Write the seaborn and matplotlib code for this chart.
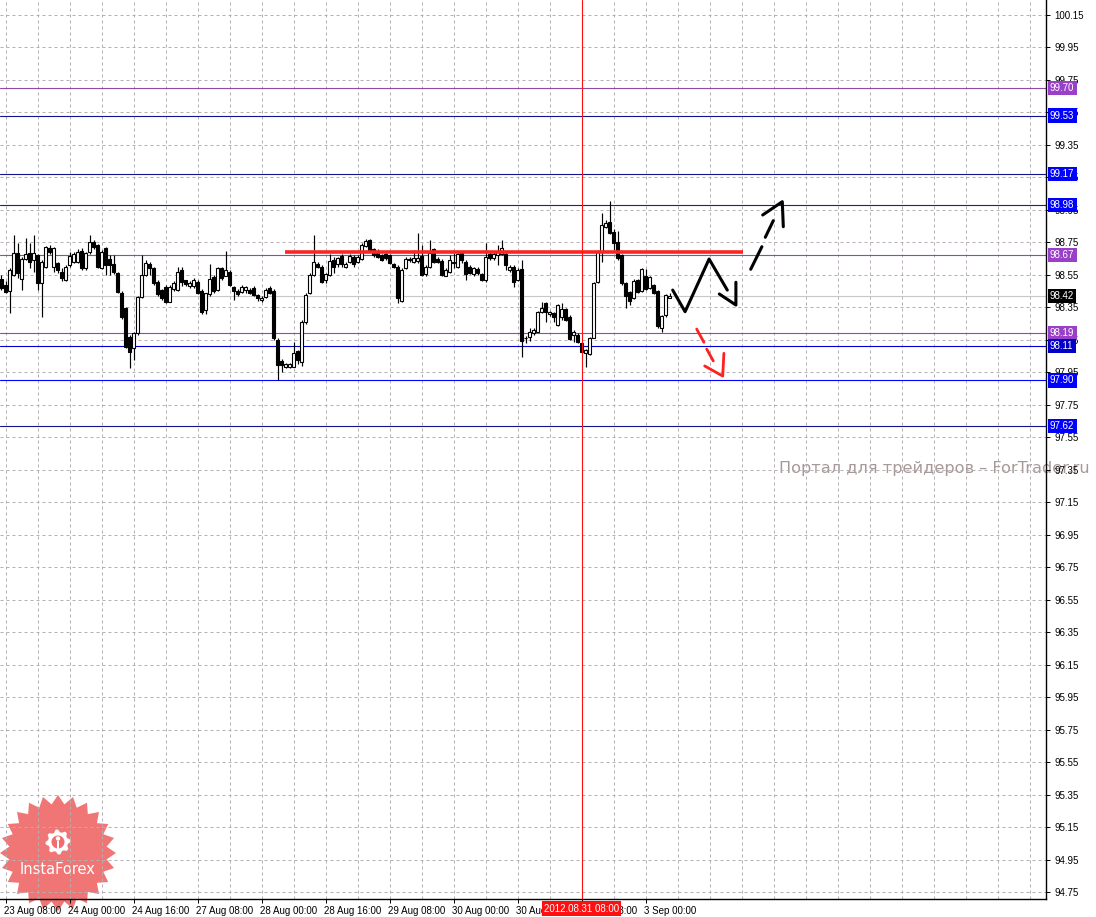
import numpy as np
import pandas as pd
import matplotlib
matplotlib.use("Agg")
import matplotlib.pyplot as plt
import matplotlib.transforms as mtransforms
from matplotlib.patches import Polygon, Circle, Rectangle
import seaborn as sns

# ---------------- data (H1 bars) ----------------
opens = [98.524, 98.487, 98.452, 98.549, 98.682, 98.522, 98.645, 98.682, 98.641, 98.672,
         98.502, 98.600, 98.713, 98.600, 98.621, 98.565, 98.518, 98.610, 98.631, 98.627,
         98.698, 98.590, 98.692, 98.749, 98.733, 98.590, 98.713, 98.645, 98.616, 98.559,
         98.440, 98.344, 98.169, 98.098, 98.190, 98.415, 98.549, 98.616, 98.590, 98.508,
         98.456, 98.477, 98.385, 98.460, 98.457, 98.580, 98.518, 98.481, 98.481, 98.508,
         98.451, 98.334, 98.431, 98.535, 98.457, 98.594, 98.545, 98.570, 98.475, 98.451,
         98.446, 98.455, 98.457, 98.471, 98.426, 98.393, 98.416, 98.467, 98.451, 98.149,
         98.020, 97.985, 97.985, 97.985, 98.081, 98.016, 98.262, 98.436, 98.549, 98.615,
         98.600, 98.518, 98.549, 98.640, 98.615, 98.666, 98.600, 98.627, 98.662, 98.627,
         98.645, 98.727, 98.764, 98.707, 98.682, 98.672, 98.676, 98.672, 98.617, 98.600,
         98.390, 98.594, 98.647, 98.631, 98.635, 98.666, 98.553, 98.600, 98.709, 98.647,
         98.635, 98.545, 98.570, 98.625, 98.600, 98.682, 98.631, 98.600, 98.553, 98.586,
         98.553, 98.518, 98.676, 98.652, 98.672, 98.676, 98.676, 98.580, 98.600, 98.518,
         98.586, 98.163, 98.170, 98.190, 98.200, 98.323, 98.375, 98.307, 98.313, 98.241,
         98.293, 98.340, 98.293, 98.180, 98.180, 98.128, 98.067, 98.061, 98.163, 98.504,
         98.692, 98.846, 98.877, 98.815, 98.754, 98.672, 98.498, 98.442, 98.405, 98.518,
         98.450, 98.541, 98.470, 98.487, 98.450, 98.225, 98.303, 98.410]
highs = [98.550, 98.510, 98.590, 98.795, 98.744, 98.660, 98.774, 98.744, 98.795, 98.680,
         98.640, 98.730, 98.734, 98.723, 98.630, 98.590, 98.610, 98.690, 98.690, 98.707,
         98.713, 98.690, 98.795, 98.764, 98.740, 98.700, 98.720, 98.672, 98.672, 98.565,
         98.450, 98.350, 98.180, 98.200, 98.420, 98.672, 98.640, 98.630, 98.600, 98.520,
         98.460, 98.490, 98.490, 98.510, 98.600, 98.600, 98.520, 98.510, 98.530, 98.520,
         98.460, 98.440, 98.615, 98.550, 98.600, 98.600, 98.697, 98.580, 98.480, 98.460,
         98.490, 98.480, 98.470, 98.480, 98.430, 98.420, 98.470, 98.480, 98.460, 98.160,
         98.030, 98.010, 98.010, 98.135, 98.090, 98.270, 98.440, 98.560, 98.795, 98.630,
         98.610, 98.560, 98.680, 98.660, 98.660, 98.680, 98.630, 98.680, 98.670, 98.670,
         98.745, 98.770, 98.770, 98.715, 98.710, 98.680, 98.690, 98.680, 98.625, 98.610,
         98.590, 98.660, 98.660, 98.700, 98.805, 98.733, 98.610, 98.764, 98.715, 98.660,
         98.645, 98.590, 98.670, 98.682, 98.690, 98.690, 98.640, 98.610, 98.600, 98.600,
         98.560, 98.745, 98.690, 98.690, 98.733, 98.764, 98.690, 98.610, 98.610, 98.590,
         98.641, 98.175, 98.220, 98.220, 98.330, 98.385, 98.385, 98.330, 98.320, 98.370,
         98.375, 98.345, 98.300, 98.210, 98.190, 98.135, 98.095, 98.170, 98.505, 98.700,
         98.928, 98.887, 99.004, 98.830, 98.820, 98.680, 98.505, 98.450, 98.525, 98.525,
         98.590, 98.586, 98.545, 98.495, 98.455, 98.305, 98.430, 98.440]
lows = [98.457, 98.436, 98.317, 98.540, 98.530, 98.456, 98.640, 98.590, 98.569, 98.456,
        98.288, 98.590, 98.680, 98.569, 98.560, 98.510, 98.510, 98.600, 98.620, 98.620,
        98.580, 98.580, 98.680, 98.710, 98.590, 98.585, 98.549, 98.549, 98.555, 98.440,
        98.280, 98.100, 97.979, 98.026, 98.180, 98.410, 98.540, 98.549, 98.490, 98.420,
        98.395, 98.375, 98.380, 98.450, 98.450, 98.480, 98.480, 98.470, 98.470, 98.430,
        98.310, 98.307, 98.420, 98.440, 98.450, 98.520, 98.540, 98.480, 98.395, 98.420,
        98.440, 98.440, 98.430, 98.420, 98.390, 98.385, 98.410, 98.430, 98.150, 97.903,
        97.950, 97.975, 97.975, 97.980, 98.000, 97.990, 98.250, 98.430, 98.540, 98.590,
        98.500, 98.500, 98.540, 98.560, 98.600, 98.600, 98.590, 98.620, 98.600, 98.620,
        98.640, 98.720, 98.690, 98.660, 98.655, 98.635, 98.640, 98.615, 98.590, 98.375,
        98.380, 98.585, 98.630, 98.620, 98.625, 98.540, 98.545, 98.590, 98.625, 98.620,
        98.540, 98.540, 98.560, 98.590, 98.590, 98.620, 98.518, 98.555, 98.545, 98.550,
        98.510, 98.505, 98.640, 98.640, 98.610, 98.670, 98.580, 98.570, 98.477, 98.510,
        98.046, 98.128, 98.140, 98.180, 98.195, 98.315, 98.262, 98.295, 98.262, 98.235,
        98.270, 98.265, 98.150, 98.139, 98.130, 98.070, 97.985, 98.055, 98.160, 98.500,
        98.630, 98.840, 98.800, 98.700, 98.640, 98.490, 98.344, 98.364, 98.400, 98.440,
        98.445, 98.455, 98.465, 98.430, 98.225, 98.200, 98.290, 98.405]
closes = [98.470, 98.446, 98.580, 98.682, 98.559, 98.645, 98.676, 98.631, 98.682, 98.498,
          98.631, 98.723, 98.692, 98.713, 98.580, 98.528, 98.600, 98.666, 98.676, 98.692,
          98.590, 98.682, 98.754, 98.723, 98.600, 98.690, 98.610, 98.610, 98.565, 98.446,
          98.292, 98.108, 98.077, 98.190, 98.415, 98.549, 98.625, 98.590, 98.498, 98.432,
          98.405, 98.385, 98.477, 98.500, 98.570, 98.508, 98.492, 98.498, 98.518, 98.436,
          98.323, 98.436, 98.524, 98.451, 98.590, 98.528, 98.580, 98.487, 98.453, 98.430,
          98.475, 98.475, 98.440, 98.426, 98.405, 98.410, 98.457, 98.436, 98.159, 97.995,
          97.995, 97.999, 97.999, 98.067, 98.026, 98.258, 98.426, 98.549, 98.631, 98.600,
          98.508, 98.553, 98.635, 98.600, 98.652, 98.615, 98.615, 98.666, 98.615, 98.662,
          98.734, 98.758, 98.697, 98.672, 98.662, 98.641, 98.651, 98.625, 98.600, 98.405,
          98.580, 98.647, 98.641, 98.651, 98.652, 98.549, 98.600, 98.682, 98.631, 98.627,
          98.549, 98.580, 98.640, 98.631, 98.676, 98.641, 98.553, 98.559, 98.590, 98.559,
          98.518, 98.660, 98.652, 98.680, 98.692, 98.717, 98.611, 98.600, 98.504, 98.580,
          98.142, 98.159, 98.200, 98.210, 98.323, 98.344, 98.319, 98.323, 98.293, 98.364,
          98.340, 98.272, 98.155, 98.200, 98.139, 98.077, 98.087, 98.163, 98.498, 98.692,
          98.856, 98.866, 98.805, 98.744, 98.651, 98.498, 98.422, 98.389, 98.512, 98.446,
          98.586, 98.463, 98.539, 98.436, 98.237, 98.299, 98.426, 98.420]

x_tick_bars = [1, 17, 33, 49, 65, 81, 97, 113, 129, 145, 161]
x_tick_labels = ["23 Aug 08:00", "24 Aug 00:00", "24 Aug 16:00", "27 Aug 08:00",
                 "28 Aug 00:00", "28 Aug 16:00", "29 Aug 08:00", "30 Aug 00:00",
                 "30 Aug 16:00", "31 Aug 08:00", "3 Sep 00:00"]
cursor_bar = 145
cursor_label = "2012.08.31 08:00"

level_prices = [99.70, 99.53, 99.17, 98.98, 98.67, 98.42, 98.19, 98.11, 97.90, 97.62]
level_line_colors = ["#8e4aa8", "#14148c", "#14148c", "#1a1ab0", "#9a3fc8",
                     "#c8c8c8", "#9a3fc8", "#0000d0", "#0000ff", "#14148c"]
level_label_colors = ["#9a3fc8", "#0000ff", "#0000ff", "#0000ff", "#9a3fc8",
                      "#000000", "#9a3fc8", "#0000c8", "#0000ff", "#0000ff"]

resistance_price = 98.688
resistance_bars = [70.9, 185.4]

# hand-drawn forecast arrows (bar index, price)
zigzag_bars = [167.8, 170.9, 176.9, 181.45]
zigzag_prices = [98.456, 98.323, 98.647, 98.456]
zigzag_head_bars = [179.45, 183.6, 183.6]
zigzag_head_prices = [98.432, 98.364, 98.504]
bull_segments = [([187.3, 190.1], [98.584, 98.723]),
                 ([190.95, 192.95], [98.781, 98.883]),
                 ([190.3, 195.2, 195.45], [98.918, 99.000, 98.846])]
bear_segments = [([173.8, 175.6], [98.216, 98.135]),
                 ([176.3, 177.95], [98.093, 98.020]),
                 ([175.8, 180.3, 180.6], [97.989, 97.927, 98.067])]

# ---------------- figure ----------------
sns.set_theme(style="white")
plt.rcParams["font.family"] = ["Liberation Sans", "DejaVu Sans"]

W, H = 1096, 917
fig = plt.figure(figsize=(W / 100, H / 100), dpi=100, facecolor="white")

# logo axes (behind the chart)
lax = fig.add_axes([0, 0, 125 / W, 135 / H], zorder=0)
lax.set_xlim(0, 125)
lax.set_ylim(0, 135)
lax.axis("off")
cx, cy = 58, 917 - 853
n = 24
ang = np.linspace(0, 2 * np.pi, 2 * n, endpoint=False) + np.pi / 2
rad = np.where(np.arange(2 * n) % 2 == 0, 58, 49)
star = np.column_stack([cx + rad * np.cos(ang), cy + rad * np.sin(ang)])
lax.add_patch(Polygon(star, closed=True, fc="#f06e6e", ec="none", alpha=0.95))
gy = cy + 11
tooth_ang = np.linspace(0, 2 * np.pi, 32, endpoint=False)
trad = np.where((np.arange(32) // 2) % 2 == 0, 12.5, 10)
gear = np.column_stack([cx + trad * np.cos(tooth_ang), gy + trad * np.sin(tooth_ang)])
lax.add_patch(Polygon(gear, closed=True, fc="white", ec="none"))
lax.add_patch(Circle((cx, gy), 6.5, fc="#f06e6e", ec="none"))
lax.add_patch(Circle((cx, gy + 3.5), 2.2, fc="white", ec="none"))
lax.add_patch(Rectangle((cx - 1.3, gy - 9), 2.6, 10, fc="white", ec="none"))
lax.text(cx, cy - 16, "InstaForex", color="white", fontsize=10.5,
         ha="center", va="center", family=["DejaVu Sans"])

# watermark
fig.text(779 / W, (917 - 469) / H, "Портал для трейдеров – ForTrader.ru",
         color="#a89898", fontsize=11.6, ha="left", va="center",
         family=["DejaVu Sans"], zorder=1)

ax = fig.add_axes([0, 18 / H, 1046 / W, 899 / H], zorder=2)
ax.set_facecolor("none")

df = pd.DataFrame({"bar": np.arange(len(opens)), "open": opens, "high": highs,
                   "low": lows, "close": closes})

# grid
grid_c = "#b4b0b4"
for xb in range(1, 262, 8):
    ax.axvline(xb, color=grid_c, lw=0.72, ls=(0, (3, 3)), zorder=1)
y_ticks = np.round(np.arange(94.75, 100.16, 0.2), 2)
for yv in y_ticks:
    ax.axhline(yv, color=grid_c, lw=0.72, ls=(0, (3, 3)), zorder=1)

# levels
for p, c in zip(level_prices, level_line_colors):
    ax.axhline(p, color=c, lw=0.8, zorder=2)

# candles
ax.vlines(df["bar"], df["low"], df["high"], color="black", lw=0.85, zorder=3)
up = df["close"] >= df["open"]
dn = ~up
ax.bar(df["bar"][up], (df["close"] - df["open"])[up].clip(lower=0.003),
       bottom=df["open"][up], width=0.75, color="white", edgecolor="black",
       linewidth=0.8, zorder=4)
ax.bar(df["bar"][dn], (df["close"] - df["open"])[dn],
       bottom=df["open"][dn], width=0.75, color="black", edgecolor="black",
       linewidth=0.8, zorder=4)

# resistance line and cursor
ax.hlines(resistance_price, resistance_bars[0], resistance_bars[1],
          color="#ff2424", lw=2.6, zorder=5)
ax.axvline(cursor_bar, color="#ff1010", lw=0.8, zorder=6)

# forecast arrows
sns.lineplot(x=zigzag_bars, y=zigzag_prices, sort=False, estimator=None,
             color="black", lw=2.2, ax=ax, zorder=7)
sns.lineplot(x=zigzag_head_bars, y=zigzag_head_prices, sort=False, estimator=None,
             color="black", lw=2.2, ax=ax, zorder=7)
for bx, by in bull_segments:
    sns.lineplot(x=bx, y=by, sort=False, estimator=None, color="black", lw=2.2,
                 ax=ax, zorder=7)
for bx, by in bear_segments:
    sns.lineplot(x=bx, y=by, sort=False, estimator=None, color="#ff2020", lw=2.0,
                 ax=ax, zorder=7)

ax.set_xlim(-0.375, 261.125)
ax.set_ylim(94.709, 100.241)
ax.set_xlabel("")
ax.set_ylabel("")

# spines
for s in ["left", "top"]:
    ax.spines[s].set_visible(False)
for s in ["right", "bottom"]:
    ax.spines[s].set_visible(True)
    ax.spines[s].set_color("black")
    ax.spines[s].set_linewidth(1.0)

tick_fs = 7.0
# ticks
ax.yaxis.tick_right()
ax.set_yticks(y_ticks)
ax.set_yticklabels([f"{v:.2f}" for v in y_ticks])
ax.tick_params(axis="y", which="major", length=3, width=0.7, pad=3,
               labelsize=tick_fs, colors="black", direction="out", right=True, left=False)
ax.set_xticks(x_tick_bars)
ax.set_xticklabels(x_tick_labels, ha="left")
ax.tick_params(axis="x", which="major", length=3, width=0.7, pad=2,
               labelsize=tick_fs, colors="black", direction="out", bottom=True)
for lab in ax.get_xticklabels():
    lab.set_transform(lab.get_transform() + mtransforms.ScaledTranslation(-1.5 / 100, 0, fig.dpi_scale_trans))

# coloured level labels on price scale
trans_y = mtransforms.blended_transform_factory(ax.transAxes, ax.transData)
for p, c in zip(level_prices, level_label_colors):
    ax.text(1 + 4 / 1046, p, f"{p:.2f}", transform=trans_y, ha="left", va="center",
            color="white", fontsize=tick_fs, clip_on=False, zorder=20,
            bbox=dict(boxstyle="square,pad=0.22", fc=c, ec="none"))

# cursor label on time scale
trans_x = mtransforms.blended_transform_factory(ax.transData, ax.transAxes)
ax.text(cursor_bar, -9.5 / 899, cursor_label, transform=trans_x, ha="center",
        va="center", color="white", fontsize=tick_fs, clip_on=False, zorder=20,
        bbox=dict(boxstyle="square,pad=0.25", fc="#ff1010", ec="none"))

fig.savefig("out.png", dpi=100, facecolor="white")
